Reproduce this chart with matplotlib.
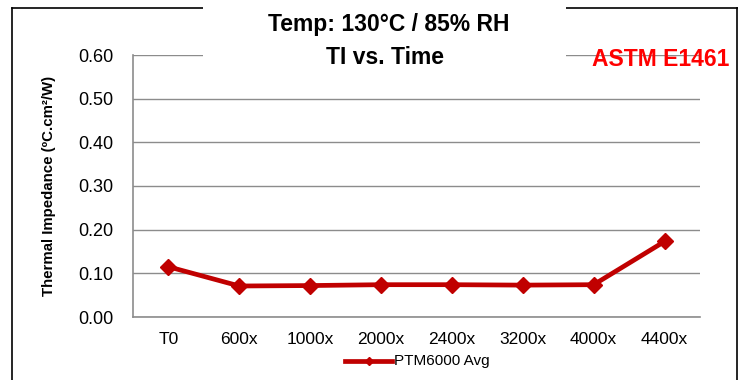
import matplotlib.pyplot as plt
from matplotlib.patches import Rectangle
from matplotlib.lines import Line2D

plt.rcParams['font.family'] = ['Liberation Sans', 'DejaVu Sans']

categories = ['T0', '600x', '1000x', '2000x', '2400x', '3200x', '4000x', '4400x']
ptm6000_avg = [0.115, 0.071, 0.072, 0.074, 0.074, 0.073, 0.074, 0.173]
yticks = [0.0, 0.1, 0.2, 0.3, 0.4, 0.5, 0.6]

red = '#C00000'

fig = plt.figure(figsize=(7.38, 3.80), dpi=100)
ax = fig.add_axes([133 / 738, 1 - 317 / 380, (700 - 133) / 738, (317 - 55) / 380])

x = list(range(len(categories)))
ax.plot(x, ptm6000_avg, color=red, lw=3.4, marker='D', ms=8.5, zorder=3)

ax.set_xlim(-0.5, len(categories) - 0.5)
ax.set_ylim(0, 0.6)
ax.set_yticks(yticks)
ax.set_yticklabels(['%.2f' % v for v in yticks])
ax.set_xticks(x)
ax.set_xticklabels(categories)
ax.tick_params(axis='both', length=0, colors='black')
ax.tick_params(axis='y', labelsize=13, pad=14)
ax.tick_params(axis='x', labelsize=12.5, pad=11)
ax.grid(axis='y', color='#8c8c8c', lw=1)
ax.set_axisbelow(True)
for s in ['top', 'right']:
    ax.spines[s].set_visible(False)
for s in ['left', 'bottom']:
    ax.spines[s].set_color('#8c8c8c')
    ax.spines[s].set_linewidth(1.2)

ax.set_ylabel('Thermal Impedance (ºC.cm²/W)', fontsize=10.8, fontweight='bold', labelpad=16)

# outer chart frame
fx = 12 / 738
fy = 1 - 8 / 380
fig.add_artist(Line2D([fx, fx], [0, fy], color='black', lw=1.2))
fig.add_artist(Line2D([fx, 1], [fy, fy], color='black', lw=1.2))
fig.add_artist(Line2D([737 / 738, 737 / 738], [0, fy], color='black', lw=1.2))

# white title box covering frame and top gridline
fig.add_artist(Rectangle((203 / 738, 1 - 70 / 380), (566 - 203) / 738, 70 / 380,
                         transform=fig.transFigure, facecolor='white', edgecolor='none', zorder=5))
fig.text(389 / 738, 1 - 24 / 380, 'Temp: 130°C / 85% RH', ha='center', va='center',
         fontsize=16.5, fontweight='bold', zorder=6)
fig.text(385 / 738, 1 - 58 / 380, 'TI vs. Time', ha='center', va='center',
         fontsize=16.5, fontweight='bold', zorder=6)

fig.text(729 / 738, 1 - 59 / 380, 'ASTM E1461', ha='right', va='center', color='red',
         fontsize=16.5, fontweight='bold', zorder=6)

# legend
ly = 1 - 361 / 380
fig.add_artist(Line2D([345 / 738, 392 / 738], [ly, ly], color=red, lw=3.4))
fig.add_artist(Line2D([369 / 738], [ly], color=red, marker='D', ms=4.5, lw=0))
fig.text(394 / 738, ly, 'PTM6000 Avg', ha='left', va='center', fontsize=11)

fig.savefig('out.png', dpi=100)
